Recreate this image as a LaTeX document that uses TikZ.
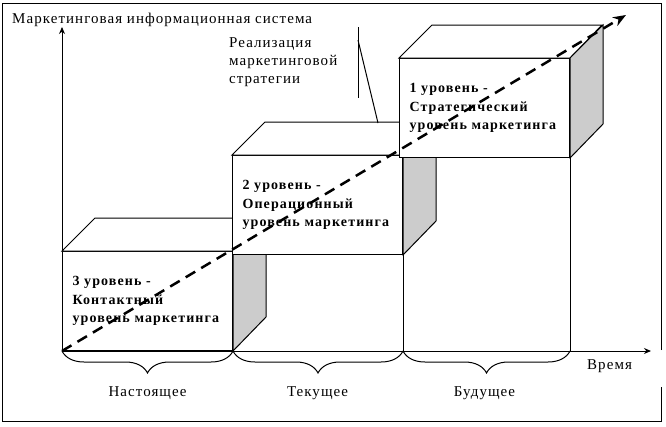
\documentclass[tikz,border=0pt]{standalone}
\usepackage{fontspec}
\setmainfont{Liberation Serif}
\newfontfamily\lvlfont[LetterSpace=8]{Liberation Serif}
\newfontfamily\lblfont[LetterSpace=7]{Liberation Serif}
\usetikzlibrary{positioning,arrows.meta,decorations.pathreplacing}

\begin{document}
\begin{tikzpicture}[x=1pt,y=-1pt,
    front/.style={draw,fill=white,line width=1pt,anchor=south west,
      minimum width=170pt,minimum height=99pt,inner xsep=10pt,inner ysep=0pt,
      text width=150pt,align=left,font=\lvlfont\bfseries\fontsize{14}{18.5}\selectfont},
    face/.style={draw,fill=white,line width=1pt},
    side/.style={draw,fill=gray!40,line width=1pt},
    lbl/.style={inner sep=0pt,font=\lblfont\fontsize{15}{18}\selectfont},
    axis/.style={line width=1pt,-{Stealth[length=7pt,width=6pt]}},
    period/.style={decorate,decoration={brace,mirror,amplitude=22pt},line width=1pt}]
  \useasboundingbox (0,0) rectangle (666,426);

  % Frame (open where the time label sits)
  \draw[line width=1pt] (661,350) -- (661,3) -- (2,3) -- (2,421) -- (661,421) -- (661,387);

  % Axes
  \coordinate (O) at (62,351);
  \coordinate (ytip) at (62,27);
  \coordinate (xtip) at (651,351);
  \draw[axis] (O) -- (ytip);
  \draw[axis] (O) -- (xtip);
  \node[lbl,anchor=base west] (ylab) at (12,23) {Маркетинговая информационная система};
  \node[lbl,anchor=base west] (xlab) at (587,369) {Время};

  % Level 3
  \node[front] (lvl3) at (O) {3 уровень -\\Контактный\\уровень маркетинга};
  \filldraw[face] (lvl3.north west) -- ++(33,-33) -- ++(170,0) -- (lvl3.north east) -- cycle;
  \filldraw[side] (lvl3.north east) -- ++(33,-33) -- ++(0,99) -- (lvl3.south east) -- cycle;

  % Level 2
  \node[front] (lvl2) at (232,255) {2 уровень -\\Операционный\\уровень маркетинга};
  \filldraw[face] (lvl2.north west) -- ++(33,-33) -- ++(167,0) -- (lvl2.north east) -- cycle;
  \filldraw[side] (lvl2.north east) -- ++(33,-33) -- ++(0,99) -- (lvl2.south east) -- cycle;
  \draw[line width=1pt] (lvl2.south east) -- (lvl2.south east |- O);

  % Level 1
  \node[front] (lvl1) at (399,158) {1 уровень -\\Стратегический\\уровень маркетинга};
  \filldraw[face] (lvl1.north west) -- ++(33,-33) -- ++(170,0) -- (lvl1.north east) -- cycle;
  \filldraw[side] (lvl1.north east) -- ++(33,-33) -- ++(0,99) -- (lvl1.south east) -- cycle;
  \draw[line width=1pt] (lvl1.south east) -- (lvl1.south east |- O);

  % Callout
  \node[lbl,anchor=base west,align=left] (strat) at (229,83) {Реализация\\маркетинговой\\стратегии};
  \coordinate (bartop) at (358,27);
  \coordinate (barbot) at (358,98);
  \coordinate (barmid) at (358,40);
  \coordinate (foot) at (378,123);
  \draw[line width=1pt] (bartop) -- (barbot);
  \draw[line width=1pt] (barmid) -- (foot);

  % Periods
  \draw[period] (lvl3.south west) -- (lvl3.south east);
  \draw[period] (lvl3.south east) -- (lvl2.south east |- O);
  \draw[period] (lvl2.south east |- O) -- (lvl1.south east |- O);
  \node[lbl,below=35pt of lvl3.south] (now) {Настоящее};
  \node[lbl,below=131pt of lvl2.south] (cur) {Текущее};
  \node[lbl,below=228pt of lvl1.south] (fut) {Будущее};

  % Strategy path
  \coordinate (dtip) at (626,15);
  \draw[line width=2.5pt,dash pattern=on 11pt off 7pt,-{Stealth[length=13pt,width=10pt]}] (O) -- (dtip);
\end{tikzpicture}
\end{document}
